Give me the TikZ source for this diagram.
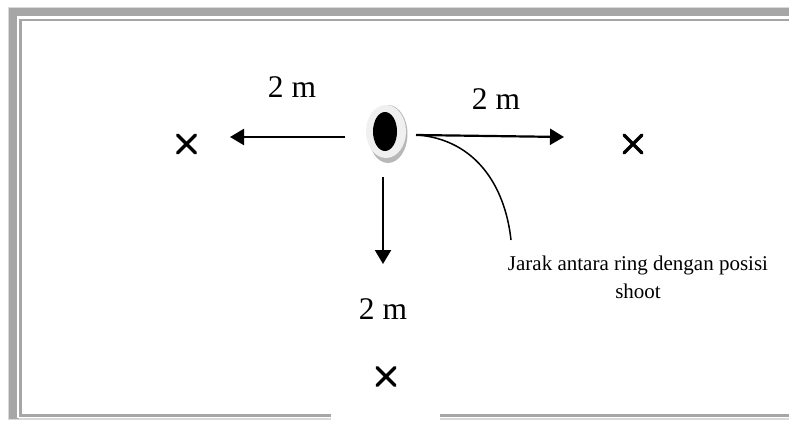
\documentclass[tikz,border=0pt]{standalone}
\usepackage{fontspec}
\setmainfont{Liberation Serif}
\usetikzlibrary{arrows.meta}
\definecolor{bordergray}{HTML}{A6A6A6}
\definecolor{borderlight}{HTML}{D9D9D9}
\tikzset{
  arrowline/.style={draw=black,line width=2.2pt,-{Triangle[length=14pt,width=16pt]}},
  lbl/.style={font=\fontsize{31.5}{34}\selectfont,inner sep=0pt,anchor=base},
  crossmark/.style={line width=3.4pt,line cap=round,black},
  bar/.style={fill=bordergray,draw=none}
}
\begin{document}
\begin{tikzpicture}[x=1pt,y=-1pt]
\useasboundingbox (0,0) rectangle (789,420);
% frame
\fill[borderlight] (8,7.5) rectangle (789,420);
\fill[white] (9,419.6) rectangle (789,420);
\fill[bar] (9,8) rectangle (789,419.3);
\fill[white] (16.5,16) rectangle (789,417.5);
\fill[borderlight] (19,417.7) rectangle (789,419.3);
\fill[bar] (19,19) rectangle (789,416.7);
\fill[white] (22,21.5) rectangle (789,414);
\fill[white] (331,410) rectangle (440,420);
% ring
\fill[black!28] (388,134) ellipse (19.5 and 29);
\fill[black!6] (386,131.5) ellipse (20 and 26.5);
\fill[black] (385,131.5) ellipse (12 and 19.5);
% marks
\foreach \x/\y in {186.5/144,633/144,386/376.5}{
  \draw[crossmark] (\x-9,\y-9) -- (\x+9,\y+9) (\x-9,\y+9) -- (\x+9,\y-9);
}
% arrows
\coordinate (aL) at (345,137);
\coordinate (aLe) at (230,137);
\coordinate (aR) at (416,135);
\coordinate (aRe) at (564,137);
\coordinate (aD) at (383,177);
\coordinate (aDe) at (383,264);
\draw[arrowline] (aL) -- (aLe);
\draw[arrowline] (aR) -- (aRe);
\draw[arrowline] (aD) -- (aDe);
% curve
\node[font=\fontsize{21}{28}\selectfont,align=center,inner sep=0pt] (cap) at (638,277) {Jarak antara ring dengan posisi\\shoot};
\coordinate (cs) at (418,135);
\coordinate (ce) at (511,240);
\draw[black,line width=1.5pt] (cs) .. controls (475,140) and (505,185) .. (ce);
% labels
\node[lbl] (l1) at (292,97) {2 m};
\node[lbl] (l2) at (496,109) {2 m};
\node[lbl] (l3) at (383,319) {2 m};
\end{tikzpicture}
\end{document}
